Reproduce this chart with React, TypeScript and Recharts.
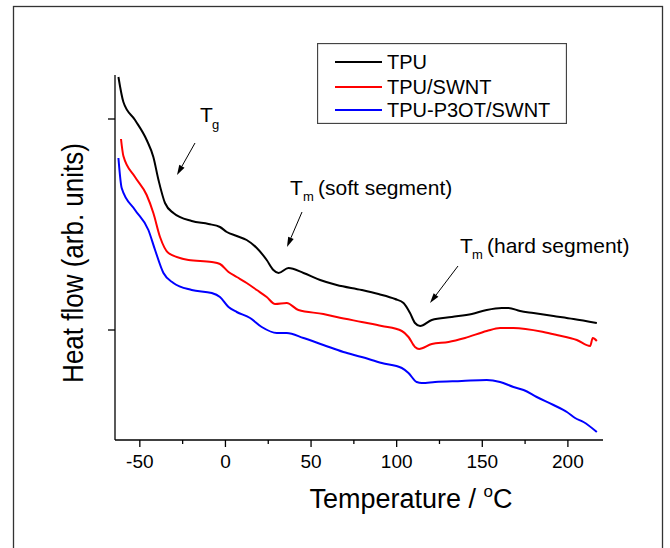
import { LineChart, Line, XAxis, YAxis, Legend } from "recharts"

// DSC curves (heat flow in arbitrary units)
const tpuTemp = [-62.5, -59.6, -52.8, -46.0, -42.1, -39.1, -35.3, -30.4, -19.7, -9.9, -3.2, 0.8, 6.6, 12.4, 18.3, 24.1, 28.0, 31.0, 36.8, 45.6, 55.3, 65.0, 79.6, 89.4, 99.1, 104.0, 107.8, 110.7, 113.7, 120.5, 132.2, 143.9, 152.6, 161.4, 165.3, 172.1, 179.9, 191.6, 203.3, 216.9]
const tpuFlow = [363, 338, 320, 300, 283, 260, 237, 227, 219, 216, 213, 208, 204, 200, 192, 180, 170, 167, 172, 167, 160, 155, 150, 146, 141, 137, 127, 117, 114, 120, 123, 126, 130, 132, 132, 129, 127, 124, 121, 117]

const swntTemp = [-61.0, -59.6, -52.8, -46.0, -42.1, -38.2, -33.3, -21.6, -8.0, -3.2, 1.8, 6.6, 12.4, 18.3, 24.1, 29.0, 35.8, 42.6, 57.2, 65.0, 79.6, 91.3, 103.0, 106.9, 110.7, 113.1, 120.5, 130.3, 139.9, 152.6, 160.4, 168.2, 185.7, 193.5, 205.2, 213.0, 214.5, 216.9]
const swntFlow = [301, 284, 263, 245, 227, 203, 187, 180, 178, 176, 168, 163, 157, 150, 143, 136, 137, 130, 126, 123, 118, 114, 109, 103, 93, 91, 96, 98, 102, 109, 112, 112, 108, 105, 100, 94, 102, 99]

const p3otTemp = [-62.5, -60.6, -52.8, -45.0, -41.1, -36.2, -30.4, -19.7, -8.0, -3.2, 1.8, 6.6, 14.4, 21.2, 30.0, 35.8, 45.6, 57.2, 68.9, 79.6, 91.3, 103.0, 106.9, 111.7, 114.7, 122.4, 138.0, 152.6, 160.4, 168.2, 174.1, 181.8, 191.6, 199.4, 204.2, 209.1, 216.9]
const p3otFlow = [282, 252, 230, 210, 190, 167, 157, 150, 147, 143, 133, 128, 122, 113, 107, 107, 102, 95, 88, 83, 77, 72, 67, 58, 57, 58, 59, 60, 58, 53, 50, 43, 35, 28, 22, 18, 8]

const seriesNames = ["TPU", "TPU/SWNT", "TPU-P3OT/SWNT"]
const xTicks = [-50, -25, 0, 25, 50, 75, 100, 125, 150, 175, 200]
const xMajor = [-50, 0, 50, 100, 150, 200]
const yTicks = [110, 321]

const toPoints = (temps: number[], flows: number[]) =>
  temps.map((t, i) => ({ t, v: flows[i] }))

const FONT = "'Liberation Sans', Arial, sans-serif"

function XTick({ x, y, payload }: any) {
  const major = xMajor.includes(payload.value)
  return (
    <g>
      <line x1={x} x2={x} y1={y} y2={y + (major ? 7 : 4)} stroke="#000" strokeWidth={1.3} />
      {major && (
        <text x={x} y={y + 28} textAnchor="middle" fontSize={19} fontFamily={FONT} fill="#000">
          {payload.value}
        </text>
      )}
    </g>
  )
}

function LegendBox({ payload }: any) {
  const items = [...(payload || [])].sort(
    (a: any, b: any) => seriesNames.indexOf(a.value) - seriesNames.indexOf(b.value)
  )
  return (
    <svg width={250} height={81} style={{ display: "block" }}>
      <rect x={0.5} y={0.5} width={249} height={80} fill="#fff" stroke="#444" strokeWidth={1.3} />
      {items.map((p: any, i: number) => {
        const cy = [19, 44, 67][i]
        return (
          <g key={p.value}>
            <line x1={18} x2={65} y1={cy} y2={cy} stroke={p.color} strokeWidth={2} />
            <text x={70} y={cy + 7} fontSize={20} fontFamily={FONT} fill="#000">
              {p.value}
            </text>
          </g>
        )
      })}
    </svg>
  )
}

function Arrow({ x1, y1, x2, y2 }: { x1: number; y1: number; x2: number; y2: number }) {
  const a = Math.atan2(y2 - y1, x2 - x1)
  const len = 10
  const w = 3
  const bx = x2 - len * Math.cos(a)
  const by = y2 - len * Math.sin(a)
  const pts = [
    [x2, y2],
    [bx + w * Math.sin(a), by - w * Math.cos(a)],
    [bx - w * Math.sin(a), by + w * Math.cos(a)],
  ]
    .map((p) => p.join(","))
    .join(" ")
  return (
    <g>
      <line x1={x1} y1={y1} x2={bx} y2={by} stroke="#000" strokeWidth={1} />
      <polygon points={pts} fill="#000" />
    </g>
  )
}

export default function App() {
  return (
    <div style={{ position: "absolute", left: 0, top: 0, width: 670, height: 548, background: "#fff", overflow: "hidden" }}>
      <LineChart width={670} height={548} margin={{ top: 75, right: 67, bottom: 107, left: 114 }}>
        <XAxis
          type="number"
          dataKey="t"
          domain={[-64.5, 220.5]}
          ticks={xTicks}
          allowDataOverflow
          height={1}
          tickSize={0}
          tickMargin={0}
          tickLine={false}
          axisLine={{ stroke: "#000", strokeWidth: 1.3 }}
          tick={<XTick />}
          interval={0}
        />
        <YAxis
          type="number"
          dataKey="v"
          domain={[0, 365]}
          ticks={yTicks}
          width={1}
          tickSize={7}
          tickLine={{ stroke: "#000", strokeWidth: 1.3 }}
          axisLine={{ stroke: "#000", strokeWidth: 1.3 }}
          tick={() => <g />}
        />
        <Legend
          layout="vertical"
          align="center"
          verticalAlign="middle"
          content={<LegendBox />}
          wrapperStyle={{ position: "absolute", left: 317, top: 43, width: 250, height: 81 }}
        />
        <Line data={toPoints(tpuTemp, tpuFlow)} dataKey="v" name={seriesNames[0]} type="monotone" stroke="#000000" strokeWidth={2} dot={false} isAnimationActive={false} />
        <Line data={toPoints(swntTemp, swntFlow)} dataKey="v" name={seriesNames[1]} type="monotone" stroke="#ff0000" strokeWidth={2} dot={false} isAnimationActive={false} />
        <Line data={toPoints(p3otTemp, p3otFlow)} dataKey="v" name={seriesNames[2]} type="monotone" stroke="#0000ff" strokeWidth={2} dot={false} isAnimationActive={false} />
      </LineChart>
      <svg width={670} height={548} style={{ position: "absolute", left: 0, top: 0, pointerEvents: "none" }} fontFamily={FONT}>
        <rect x={13.5} y={6.5} width={649} height={600} fill="none" stroke="#333" strokeWidth={1.3} />
        <text x={200} y={122} fontSize={21}>T</text>
        <text x={212} y={129} fontSize={13}>g</text>
        <Arrow x1={195} y1={143} x2={177} y2={175} />
        <text x={290} y={195} fontSize={21}>T</text>
        <text x={303} y={201} fontSize={13}>m</text>
        <text x={318} y={195} fontSize={21}>(soft segment)</text>
        <Arrow x1={302} y1={212} x2={287} y2={247} />
        <text x={460} y={253} fontSize={21}>T</text>
        <text x={472} y={259} fontSize={13}>m</text>
        <text x={487} y={253} fontSize={21}>(hard segment)</text>
        <Arrow x1={458} y1={266} x2={430} y2={303} />
        <text transform="translate(83,263) rotate(-90) scale(1,1.12)" textAnchor="middle" fontSize={26}>
          Heat flow (arb. units)
        </text>
        <text x={411} y={508} textAnchor="middle" fontSize={27}>
          Temperature / <tspan dy={-11} fontSize={17}>o</tspan>
          <tspan dy={11}>C</tspan>
        </text>
      </svg>
    </div>
  )
}
